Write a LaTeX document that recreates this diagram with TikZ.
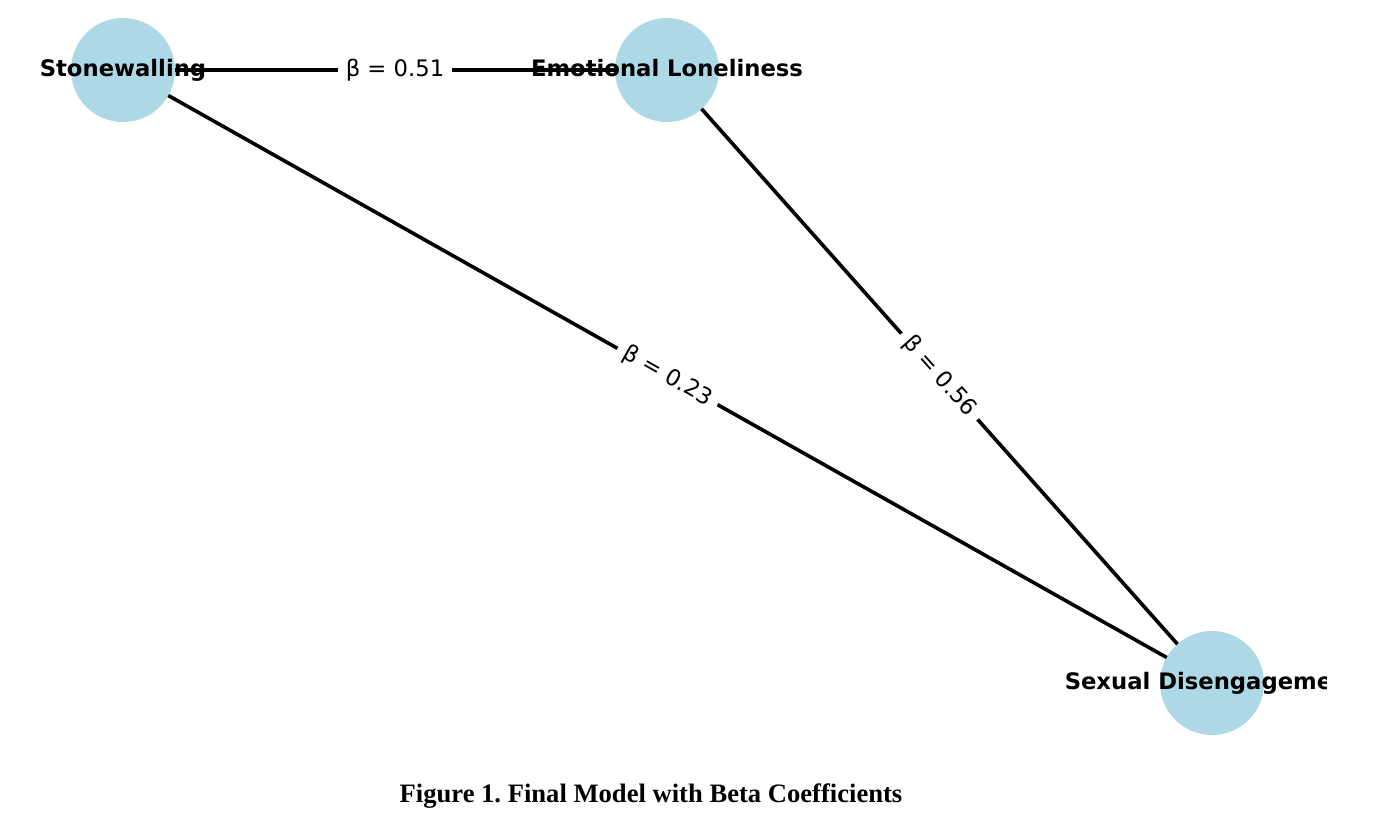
\documentclass[tikz,border=0pt]{standalone}
\usepackage{fontspec}
\setmainfont{DejaVu Sans}
\newfontfamily\capfont{Liberation Serif}
\definecolor{nodeblue}{HTML}{ADD8E6}
\frenchspacing
\tikzset{
  nodecircle/.style={circle, fill=nodeblue, minimum size=104pt, inner sep=0pt, outer sep=0pt},
  nodelabel/.style={anchor=base, inner sep=0pt, font=\fontsize{22.7}{27}\selectfont\bfseries},
  edgeline/.style={draw=black, line width=3.6pt},
  edgelabel/.style={midway, sloped, fill=white, inner xsep=8pt, inner ysep=2pt, font=\fontsize{22.7}{27}\selectfont},
  captionstyle/.style={anchor=base, inner sep=0pt, font=\capfont\fontsize{26.6}{30}\selectfont\bfseries}
}
\begin{document}
\begin{tikzpicture}[x=1pt, y=-1pt]
\useasboundingbox[fill=white] (0,0) rectangle (1385,830);
\node[nodecircle] (sw) at (123,70) {};
\node[nodecircle] (el) at (667,70) {};
\node[nodecircle] (sd) at (1212,683) {};
\node[nodelabel] (swl) at (123,76.5) {Stonewalling};
\node[nodelabel] (ell) at (667,76.5) {Emotional Loneliness};
\begin{scope}
\clip (0,0) rectangle (1326,830);
\node[nodelabel] (sdl) at (1212,689.5) {Sexual Disengagement};
\end{scope}
\draw[edgeline] (sw) -- node[edgelabel] (b1) {β = 0.51} (el);
\draw[edgeline] (sw) -- node[edgelabel] (b2) {β = 0.23} (sd);
\draw[edgeline] (el) -- node[edgelabel] (b3) {β = 0.56} (sd);
\node[captionstyle] (cap) at (651,802) {Figure 1. Final Model with Beta Coefficients};
\end{tikzpicture}
\end{document}
